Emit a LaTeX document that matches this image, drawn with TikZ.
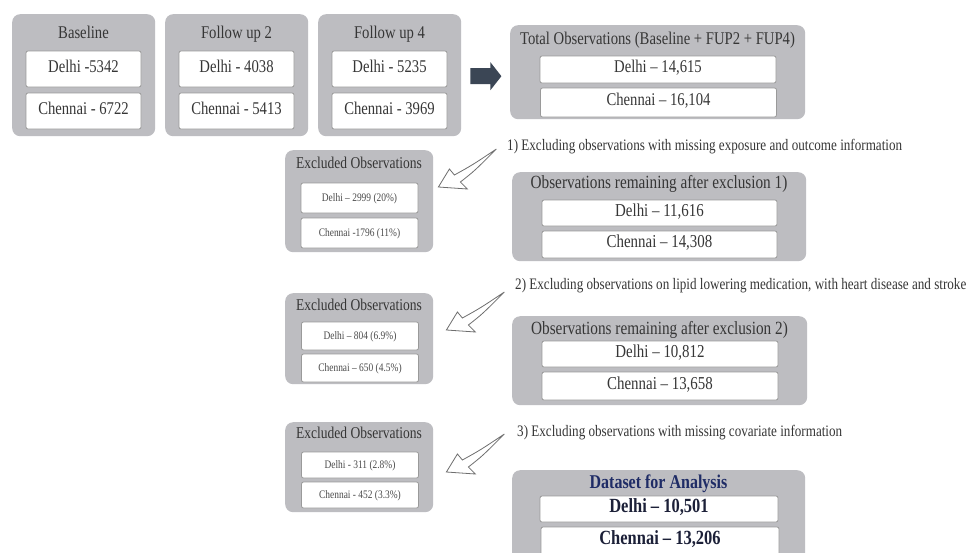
\documentclass[tikz,border=0pt]{standalone}
\usepackage{fontspec}
\setmainfont{Liberation Serif}[FakeStretch=0.82]
\usetikzlibrary{calc}
\definecolor{boxgray}{HTML}{BDBDC1}
\definecolor{innerline}{HTML}{9A9A9A}
\definecolor{txt}{HTML}{363636}
\definecolor{smalltxt}{HTML}{4A4A4A}
\definecolor{navy}{HTML}{1F2C66}
\definecolor{darknavy}{HTML}{1C2038}
\definecolor{slate}{HTML}{3B4655}
\definecolor{arrowline}{HTML}{6E6E6E}
\tikzset{
  outerbox/.style={fill=boxgray, draw=none, rounded corners=8pt, anchor=north west, inner sep=0pt},
  innerbox/.style={fill=white, draw=innerline, line width=0.8pt, rounded corners=2pt, inner sep=0pt, text=txt, align=center, text height=0.76em, text depth=0.1em},
  mtext/.style={font=\fontsize{17.9}{19}\selectfont},
  rtext/.style={font=\fontsize{18.2}{20}\selectfont},
  btitle/.style={text=txt, inner sep=0pt, font=\fontsize{17.9}{19}\selectfont, text height=0.76em, text depth=0.1em},
  rtitle/.style={text=txt, inner sep=0pt, font=\fontsize{18.6}{20}\selectfont, text height=0.76em, text depth=0.1em},
  extitle/.style={text=txt, inner sep=0pt, font=\fontsize{16.5}{18}\selectfont, text height=0.76em, text depth=0.1em},
  exinner/.style={innerbox, text=smalltxt, font=\fontsize{11.5}{13}\selectfont, minimum width=117pt},
  steplabel/.style={text=txt, inner sep=0pt, anchor=west, font=\fontsize{16}{18}\selectfont, text height=0.76em, text depth=0.1em},
  hollow/.style={fill=white, draw=arrowline, line width=0.8pt, line join=miter},
}
\begin{document}
\begin{tikzpicture}[x=1pt, y=-1pt]
\useasboundingbox (0,0) rectangle (969,552);
\clip (0,0) rectangle (969,552);
\fill[white] (0,0) rectangle (969,552);

% ---------- top row ----------
\node[outerbox, minimum width=143pt, minimum height=122pt] (base) at (12,14) {};
\node[btitle] (baset) at (83.5,35) {Baseline};
\node[innerbox, mtext, minimum width=115pt, minimum height=36pt] (based) at (83.5,69) {Delhi -5342};
\node[innerbox, mtext, minimum width=115pt, minimum height=36pt] (basec) at (83.5,111) {Chennai - 6722};

\node[outerbox, minimum width=143pt, minimum height=122pt] (fu2) at (165,14) {};
\node[btitle] (fu2t) at (236.5,35) {Follow up 2};
\node[innerbox, mtext, minimum width=115pt, minimum height=36pt] (fu2d) at (236.5,69) {Delhi - 4038};
\node[innerbox, mtext, minimum width=115pt, minimum height=36pt] (fu2c) at (236.5,111) {Chennai - 5413};

\node[outerbox, minimum width=143pt, minimum height=122pt] (fu4) at (318,14) {};
\node[btitle] (fu4t) at (389.5,35) {Follow up 4};
\node[innerbox, mtext, minimum width=115pt, minimum height=36pt] (fu4d) at (389.5,69) {Delhi - 5235};
\node[innerbox, mtext, minimum width=115pt, minimum height=36pt] (fu4c) at (389.5,111) {Chennai - 3969};

% ---------- total ----------
\node[outerbox, minimum width=295pt, minimum height=94pt] (total) at (510,25) {};
\node[btitle] (totalt) at (657.5,41) {Total Observations (Baseline + FUP2 + FUP4)};
\node[innerbox, mtext, minimum width=236pt, minimum height=27pt] (totald) at (658,69.5) {Delhi – 14,615};
\node[innerbox, mtext, minimum width=236pt, minimum height=29pt] (totalc) at (658.5,102.5) {Chennai – 16,104};

% big arrow
\coordinate (bigtail) at ($(fu4.east)+(9,1)$);
\fill[slate] ($(bigtail)+(0,-8)$) -- ++(20,0) -- ++(0,-6) -- ++(11,14) -- ++(-11,14) -- ++(0,-6) -- ++(-20,0) -- cycle;

% ---------- step 1 ----------
\node[steplabel] (lab1) at (507,147) {1) Excluding observations with missing exposure and outcome information};
\node[outerbox, minimum width=148pt, minimum height=102pt] (ex1) at (285,150) {};
\node[extitle] (ex1t) at (359,165) {Excluded Observations};
\node[exinner, minimum height=30pt] (ex1d) at (359.5,198) {Delhi – 2999 (20\%)};
\node[exinner, minimum height=30pt] (ex1c) at (359.5,233) {Chennai -1796 (11\%)};

\node[outerbox, minimum width=294pt, minimum height=89pt] (rem1) at (512,172) {};
\node[rtitle] (rem1t) at (659,185) {Observations remaining after exclusion 1)};
\node[innerbox, rtext, minimum width=235pt, minimum height=26pt] (rem1d) at (659.5,213) {Delhi – 11,616};
\node[innerbox, rtext, minimum width=235pt, minimum height=27pt] (rem1c) at (659.5,244.5) {Chennai – 14,308};

% ---------- step 2 ----------
\node[steplabel] (lab2) at (515,286) {2) Excluding observations on lipid lowering medication, with heart disease and stroke};
\node[outerbox, minimum width=148pt, minimum height=91pt] (ex2) at (285,293) {};
\node[extitle] (ex2t) at (359,307) {Excluded Observations};
\node[exinner, minimum height=28pt] (ex2d) at (360,336) {Delhi – 804 (6.9\%)};
\node[exinner, minimum height=28pt] (ex2c) at (360,368) {Chennai – 650 (4.5\%)};

\node[outerbox, minimum width=295pt, minimum height=89pt] (rem2) at (512,316) {};
\node[rtitle] (rem2t) at (659.5,331) {Observations remaining after exclusion 2)};
\node[innerbox, rtext, minimum width=236pt, minimum height=26pt] (rem2d) at (660,354) {Delhi – 10,812};
\node[innerbox, rtext, minimum width=236pt, minimum height=28pt] (rem2c) at (660,386) {Chennai – 13,658};

% ---------- step 3 ----------
\node[steplabel] (lab3) at (517,433) {3) Excluding observations with missing covariate information};
\node[outerbox, minimum width=148pt, minimum height=90pt] (ex3) at (285,422) {};
\node[extitle] (ex3t) at (359,435) {Excluded Observations};
\node[exinner, minimum height=26pt] (ex3d) at (360,465) {Delhi - 311 (2.8\%)};
\node[exinner, minimum height=26pt] (ex3c) at (360,495) {Chennai - 452 (3.3\%)};

\node[outerbox, minimum width=293pt, minimum height=100pt] (data) at (512,470) {};
\node[rtitle, text=navy, font=\bfseries\fontsize{19.5}{21}\selectfont] (datat) at (658.5,485) {Dataset for Analysis};
\node[innerbox, text=darknavy, font=\bfseries\fontsize{20.1}{22}\selectfont, minimum width=238pt, minimum height=26pt] (datad) at (659,509) {Delhi – 10,501};
\node[innerbox, text=darknavy, font=\bfseries\fontsize{20.1}{22}\selectfont, minimum width=238pt, minimum height=28pt] (datac) at (660,541) {Chennai – 13,206};

% ---------- hollow arrows (label -> excluded box) ----------
\coordinate (a1) at ($(ex1.north east)+(5,37)$);
\coordinate (a2) at ($(ex2.north east)+(13,37)$);
\coordinate (a3) at ($(ex3.north east)+(13,50)$);
\foreach \t in {a1,a2,a3}{
  \draw[hollow, shift={(\t)}] (0,0) -- (29,2) -- (22,-5) .. controls (36,-16) .. (58,-38)
     .. controls (34,-22) .. (16,-12) -- (11,-18) -- cycle;
}
\end{tikzpicture}
\end{document}
